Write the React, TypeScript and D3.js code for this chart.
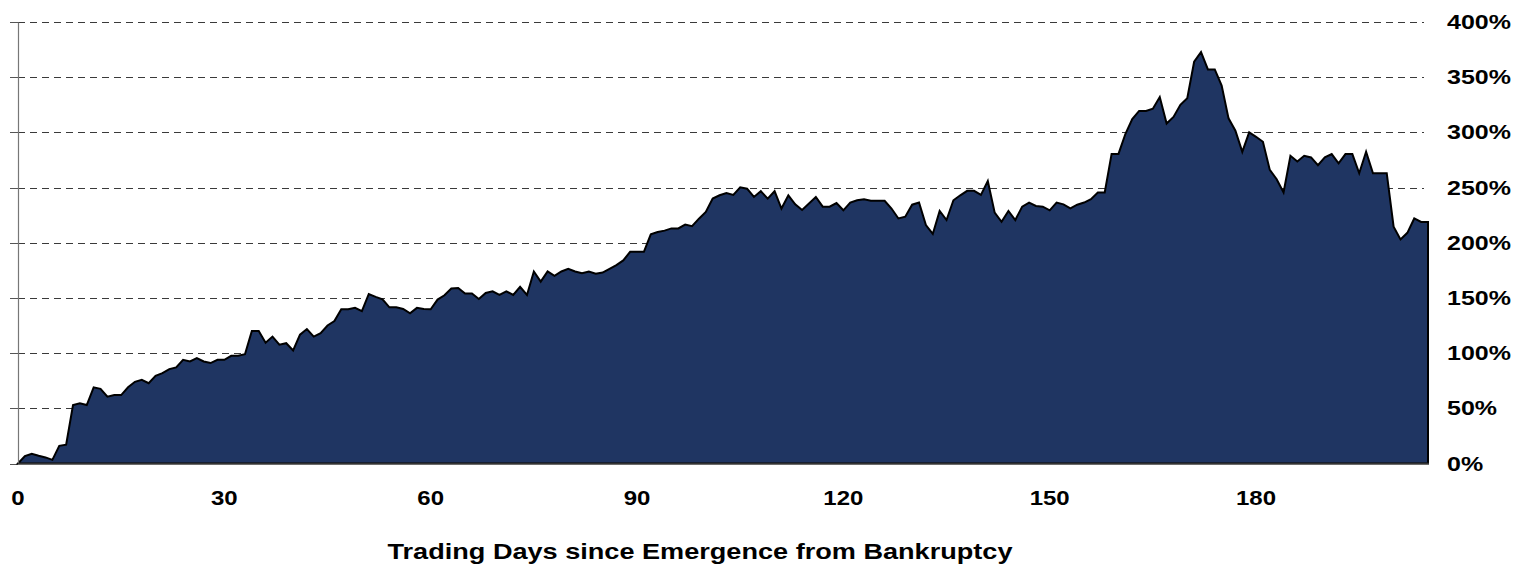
import React from "react";
import * as d3 from "d3";

// Cumulative return (%) by trading day since emergence from bankruptcy (day 0..205)
const returns: number[] = [
  0, 6.7, 8.8, 7, 5.5, 3.3, 16, 17, 53, 54.5,
  53, 69, 67.6, 60.6, 62, 62, 69, 74, 75.8, 72.7,
  79.4, 81.8, 85.5, 87, 94, 92.4, 95.5, 92.4, 91, 94,
  94, 97.6, 97.6, 99, 120, 120, 109.4, 115, 107.6, 109,
  102.4, 116.7, 121.8, 115, 118, 125, 129, 139.7, 139.7, 141,
  138, 153.6, 151, 148.8, 141.5, 141.5, 140, 136, 141, 140,
  139.7, 148.5, 152.4, 158.5, 159, 154, 154, 149, 154.5, 156,
  152.7, 156, 152.7, 160, 152.7, 174, 164.8, 174, 170, 174,
  176.4, 174, 172.4, 174, 172, 173, 176.4, 179.7, 184, 191.8,
  191.8, 191.8, 207.6, 209.7, 211, 213, 213, 216.4, 215, 221.8,
  228, 240, 243, 245, 243.3, 250.3, 249, 241.5, 246.7, 240,
  246.7, 231, 243, 234.8, 229.7, 235.5, 241.5, 232.7, 232.7, 236,
  229.4, 236.4, 238.5, 239.4, 238, 238, 238, 231, 222, 223.6,
  234.5, 236.4, 216, 208, 228.8, 220.6, 238.5, 243, 247, 247,
  243.3, 256, 227.3, 219, 228.8, 220.6, 232.7, 236.4, 233.3, 232.7,
  229.4, 236.4, 234.8, 231.2, 234.5, 236.4, 239.4, 245.5, 245.5, 280.5,
  280.5, 298.5, 312, 319.4, 319.4, 321.5, 332, 308, 314, 325,
  331, 364, 372.7, 357, 357, 342.4, 312.7, 301.5, 282.4, 300,
  296, 291.5, 266, 257.6, 245.5, 278.8, 273.6, 278.8, 277.3, 270.3,
  277.3, 280.3, 272, 280.3, 280.3, 263, 282.4, 263, 263, 263,
  214.5, 203, 209, 222, 218.8, 218.8,
];

const xTicks: number[] = [0, 30, 60, 90, 120, 150, 180];
const yTicks: number[] = [0, 50, 100, 150, 200, 250, 300, 350, 400];
const xAxisTitle = "Trading Days since Emergence from Bankruptcy";

const WIDTH = 1520;
const HEIGHT = 568;
const FONT = "'Liberation Sans', Arial, sans-serif";

export default function App() {
  const x = d3.scaleLinear().domain([0, returns.length - 1]).range([18, 1428]);
  const y = d3.scaleLinear().domain([0, 400]).range([463.5, 22]);

  const area = d3
    .area<number>()
    .x((_, i) => x(i))
    .y0(y(0))
    .y1((d) => y(d));

  const gridRight = 1424;
  const gy = (t: number) => Math.round(y(t)) + 0.5;

  return (
    <svg
      width={WIDTH}
      height={HEIGHT}
      style={{ position: "absolute", left: 0, top: 0, background: "#fff" }}
    >
      {/* gridlines */}
      {yTicks.map((t) =>
        t === 0 ? null : (
          <line
            key={"g" + t}
            x1={18}
            x2={gridRight}
            y1={gy(t)}
            y2={gy(t)}
            stroke="#3a3a3a"
            strokeWidth={1}
            strokeDasharray="7,5"
            shapeRendering="crispEdges"
          />
        )
      )}
      {/* left tick marks */}
      {yTicks.map((t) => (
        <line
          key={"tk" + t}
          x1={10}
          x2={18}
          y1={gy(t)}
          y2={gy(t)}
          stroke="#555"
          strokeWidth={1}
          shapeRendering="crispEdges"
        />
      ))}
      {/* area */}
      <path
        d={area(returns) || ""}
        fill="#1f3562"
        stroke="#000"
        strokeWidth={2}
        strokeLinejoin="miter"
      />
      {/* left axis */}
      <line x1={18.5} x2={18.5} y1={gy(400)} y2={y(0)} stroke="#777" strokeWidth={1.2} />
      {/* bottom axis */}
      <line x1={18} x2={1429} y1={y(0)} y2={y(0)} stroke="#333" strokeWidth={1.5} />

      {/* y tick labels on right */}
      {yTicks.map((t) => (
        <text
          key={"yl" + t}
          transform={`translate(1447,${y(t) + 7}) scale(1.25,1)`}
          fontFamily={FONT}
          fontWeight="bold"
          fontSize={20}
          fill="#000"
        >
          {t + "%"}
        </text>
      ))}

      {/* x tick labels */}
      {xTicks.map((t) => (
        <text
          key={"xl" + t}
          transform={`translate(${x(t)},505) scale(1.2,1)`}
          textAnchor="middle"
          fontFamily={FONT}
          fontWeight="bold"
          fontSize={20}
          fill="#000"
        >
          {t}
        </text>
      ))}

      {/* x axis title */}
      <text
        x={700}
        y={559}
        textAnchor="middle"
        fontFamily={FONT}
        fontWeight="bold"
        fontSize={22}
        textLength={625}
        lengthAdjust="spacingAndGlyphs"
        fill="#000"
      >
        {xAxisTitle}
      </text>
    </svg>
  );
}
